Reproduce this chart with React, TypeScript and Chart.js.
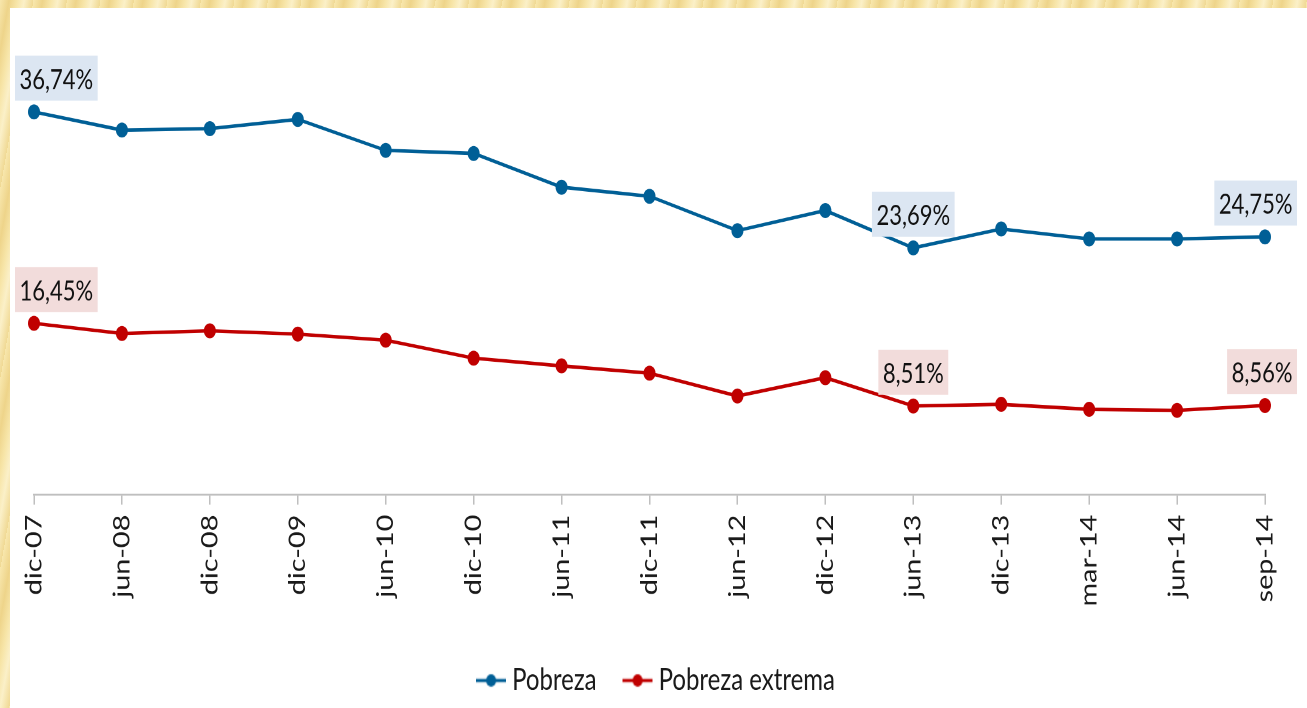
import React, { useEffect, useRef } from 'react';
import { Chart, registerables } from 'chart.js';

Chart.register(...registerables);

// ---- data ----
const categories = ['dic-07', 'jun-08', 'dic-08', 'dic-09', 'jun-10', 'dic-10', 'jun-11', 'dic-11', 'jun-12', 'dic-12', 'jun-13', 'dic-13', 'mar-14', 'jun-14', 'sep-14'];
const pobreza = [36.74, 35.0, 35.14, 36.03, 33.05, 32.76, 29.52, 28.65, 25.35, 27.28, 23.69, 25.51, 24.55, 24.55, 24.75];
const pobrezaExtrema = [16.45, 15.47, 15.73, 15.41, 14.83, 13.1, 12.36, 11.66, 9.47, 11.23, 8.51, 8.67, 8.19, 8.09, 8.56];
const seriesNames = ['Pobreza', 'Pobreza extrema'];
const labeledPoints = [0, 10, 14];
const yMin = 0;
const yMax = 40;

// ---- styles ----
const lineColors = ['#005f96', '#c00000'];
const labelBoxColors = ['#dce6f2', '#f2dcdb'];
const FONT = 'Lato, "Open Sans", sans-serif';
const STRETCH = 1.25;
const W = 1297;
const H = 560;

const fmt = (v: number) => v.toFixed(2).replace('.', ',') + '%';

function makeLegendMarker(color: string): HTMLCanvasElement {
  const c = document.createElement('canvas');
  c.width = 30;
  c.height = 14;
  const g = c.getContext('2d')!;
  g.strokeStyle = color;
  g.lineWidth = 2.6;
  g.beginPath();
  g.moveTo(0, 7);
  g.lineTo(30, 7);
  g.stroke();
  g.fillStyle = color;
  g.beginPath();
  g.arc(15, 7, 5, 0, Math.PI * 2);
  g.fill();
  return c;
}

const valueLabels = {
  id: 'valueLabels',
  afterDatasetsDraw(chart: any) {
    const ctx = chart.ctx;
    ctx.save();
    ctx.font = `22px ${FONT}`;
    chart.data.datasets.forEach((ds: any, di: number) => {
      const meta = chart.getDatasetMeta(di);
      labeledPoints.forEach((i) => {
        const el = meta.data[i];
        if (!el) return;
        const text = fmt(ds.data[i]);
        const tw = ctx.measureText(text).width;
        const w = tw + 9;
        const h = 36;
        let left = el.x - w / 2;
        left = Math.max(5, Math.min(left, chart.width - 10 - w));
        const bottom = el.y - 9;
        ctx.fillStyle = labelBoxColors[di];
        ctx.fillRect(left, bottom - h, w, h);
        ctx.fillStyle = '#111111';
        ctx.textAlign = 'center';
        ctx.textBaseline = 'middle';
        ctx.fillText(text, left + w / 2, bottom - h / 2 + 1.5);
      });
    });
    ctx.restore();
  },
};

const legendShift = {
  id: 'legendShift',
  afterLayout(chart: any) {
    const lg = chart.legend;
    if (lg) {
      lg.left += 9;
      lg.right += 9;
    }
  },
};

export default function App() {
  const canvasRef = useRef<HTMLCanvasElement | null>(null);

  useEffect(() => {
    if (!canvasRef.current) return;
    const markers = lineColors.map(makeLegendMarker);
    const chart = new Chart(canvasRef.current, {
      type: 'line',
      data: {
        labels: categories,
        datasets: [
          {
            label: seriesNames[0],
            data: pobreza,
            borderColor: lineColors[0],
            backgroundColor: lineColors[0],
            borderWidth: 2.8,
            pointRadius: 6,
            pointBorderWidth: 0,
            pointBackgroundColor: lineColors[0],
            tension: 0,
          },
          {
            label: seriesNames[1],
            data: pobrezaExtrema,
            borderColor: lineColors[1],
            backgroundColor: lineColors[1],
            borderWidth: 2.8,
            pointRadius: 6,
            pointBorderWidth: 0,
            pointBackgroundColor: lineColors[1],
            tension: 0,
          },
        ],
      },
      options: {
        animation: false,
        responsive: true,
        maintainAspectRatio: false,
        devicePixelRatio: 2,
        layout: { padding: { left: 24, right: 42, top: 56, bottom: 0 } },
        scales: {
          x: {
            offset: false,
            grid: {
              display: true,
              drawOnChartArea: false,
              drawTicks: true,
              tickLength: 8,
              color: '#bfbfbf',
              lineWidth: 1.5,
            },
            border: { display: true, color: '#bfbfbf', width: 1.6 },
            ticks: {
              autoSkip: false,
              maxRotation: 90,
              minRotation: 90,
              padding: 8,
              color: '#1a1a1a',
              font: { family: FONT, size: 23 },
            },
            afterFit: (scale: any) => {
              scale.height = 104.7;
            },
          },
          y: {
            display: false,
            min: yMin,
            max: yMax,
          },
        },
        plugins: {
          legend: {
            display: true,
            position: 'bottom',
            labels: {
              usePointStyle: true,
              pointStyleWidth: 18,
              padding: 32,
              color: '#1a1a1a',
              font: { family: FONT, size: 24 },
              generateLabels: (c: any) => {
                const items = Chart.defaults.plugins.legend.labels.generateLabels(c);
                return items.map((it: any, i: number) => ({ ...it, pointStyle: markers[i] }));
              },
            },
          },
          tooltip: { enabled: false },
        },
      },
      plugins: [valueLabels, legendShift],
    } as any);
    return () => chart.destroy();
  }, []);

  const parchment =
    'repeating-linear-gradient(100deg, #f8e7ad 0px, #eed48a 9px, #f7e5a8 17px, #fbf0c8 24px, #f0d994 33px)';

  return (
    <div
      style={{
        position: 'fixed',
        left: 0,
        top: 0,
        width: 1307,
        height: 708,
        background: parchment,
        overflow: 'hidden',
      }}
    >
      <div
        style={{
          position: 'absolute',
          left: 10,
          top: 8,
          width: W,
          height: 700,
          background: '#ffffff',
        }}
      >
        <div
          style={{
            position: 'relative',
            width: W,
            height: H,
            transform: `scaleY(${STRETCH})`,
            transformOrigin: '0 0',
          }}
        >
          <canvas ref={canvasRef} />
        </div>
      </div>
    </div>
  );
}
